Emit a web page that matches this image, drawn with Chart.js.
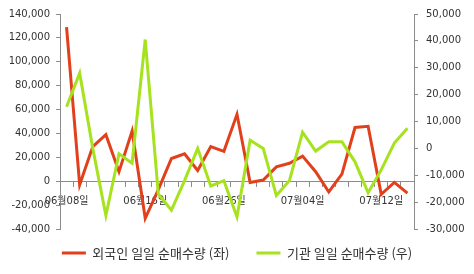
<!DOCTYPE html>
<html>
<head>
<meta charset="utf-8">
<script src="https://cdn.jsdelivr.net/npm/chart.js@4.4.1/dist/chart.umd.min.js"></script>
<style>
  html, body { margin: 0; padding: 0; background: #ffffff; }
  #wrap { width: 474px; height: 274px; position: relative; }
</style>
</head>
<body>
<div id="wrap"><canvas id="c" width="474" height="274"></canvas></div>
<script>
const categories = [
  '06월08일','06월09일','06월10일','06월11일','06월12일','06월15일','06월16일',
  '06월17일','06월18일','06월19일','06월22일','06월24일','06월26일',
  '06월29일','06월30일','07월01일','07월02일','07월03일','07월04일',
  '07월06일','07월07일','07월08일','07월09일','07월10일','07월12일',
  '07월13일','07월14일'
];
const foreignNet = [129000, -3000, 29000, 39000, 8000, 42000, -31000, -7000, 19000, 23000, 9000, 29000, 25000, 56000, -1000, 1000, 12000, 15000, 21000, 8000, -9000, 6000, 45000, 46000, -11000, -1000, -10000];
const instNet = [15500, 28000, 0, -25000, -2000, -5500, 40500, -17000, -23000, -12000, 0, -14000, -12000, -25500, 3000, 0, -17500, -12000, 6000, -1000, 2500, 2500, -5000, -16500, -8000, 2000, 7500];
const seriesNames = ['외국인 일일 순매수량 (좌)', '기관 일일 순매수량 (우)'];
const leftTicks = { min: -40000, max: 140000, step: 20000 };
const rightTicks = { min: -30000, max: 50000, step: 10000 };
const labelEvery = 6;

const RED = '#E2401C';
const GREEN = '#A6E21E';
const AXIS = '#8c8c8c';
const TXT = '#333333';
const tickFont = { family: "'DejaVu Sans', 'Noto Sans CJK KR', sans-serif", size: 10 };

const legendShift = {
  id: 'legendShift',
  afterLayout(chart) {
    const l = chart.legend;
    if (l) { l.top -= 9.5; l.bottom -= 9.5; }
  }
};

new Chart(document.getElementById('c'), {
  type: 'line',
  data: {
    labels: categories,
    datasets: [
      { label: seriesNames[0], data: foreignNet, yAxisID: 'y', borderColor: RED, backgroundColor: RED,
        borderWidth: 3, pointRadius: 0, tension: 0, order: 1 },
      { label: seriesNames[1], data: instNet, yAxisID: 'y1', borderColor: GREEN, backgroundColor: GREEN,
        borderWidth: 3, pointRadius: 0, tension: 0, order: 0 }
    ]
  },
  options: {
    responsive: false,
    animation: false,
    layout: { padding: { top: 8, left: 0, right: 0, bottom: 0 } },
    plugins: {
      tooltip: { enabled: false },
      legend: {
        position: 'bottom',
        maxHeight: 45,
        labels: {
          usePointStyle: true,
          pointStyle: 'line',
          pointStyleWidth: 24,
          padding: 27,
          color: TXT,
          font: { family: "'Noto Sans CJK KR', sans-serif", size: 13 },
          sort: (a, b) => a.datasetIndex - b.datasetIndex
        }
      }
    },
    scales: {
      x: {
        type: 'category',
        offset: true,
        position: { y: 0 },
        grid: { display: true, drawOnChartArea: false, drawTicks: true, tickLength: 5, offset: true, color: AXIS },
        border: { display: true, color: AXIS, width: 1 },
        ticks: {
          autoSkip: false, maxRotation: 0, minRotation: 0, padding: 9, color: TXT, font: tickFont,
          callback: function(v, i) { return i % labelEvery === 0 ? this.getLabelForValue(v) : ''; }
        }
      },
      y: {
        position: 'left',
        min: leftTicks.min, max: leftTicks.max,
        afterFit: (s) => { s.width = 60; },
        grid: { drawOnChartArea: false, drawTicks: true, tickLength: 4, color: AXIS },
        border: { display: true, color: AXIS, width: 1 },
        ticks: { stepSize: leftTicks.step, padding: 6, color: TXT, font: tickFont,
          callback: (v) => Number(v).toLocaleString('en-US') }
      },
      y1: {
        position: 'right',
        min: rightTicks.min, max: rightTicks.max,
        afterFit: (s) => { s.width = 60; },
        grid: { drawOnChartArea: false, drawTicks: true, tickLength: 4, color: AXIS },
        border: { display: true, color: AXIS, width: 1 },
        ticks: { stepSize: rightTicks.step, padding: 8, color: TXT, font: tickFont,
          callback: (v) => Number(v).toLocaleString('en-US') }
      }
    }
  },
  plugins: [legendShift]
});
</script>
</body>
</html>
